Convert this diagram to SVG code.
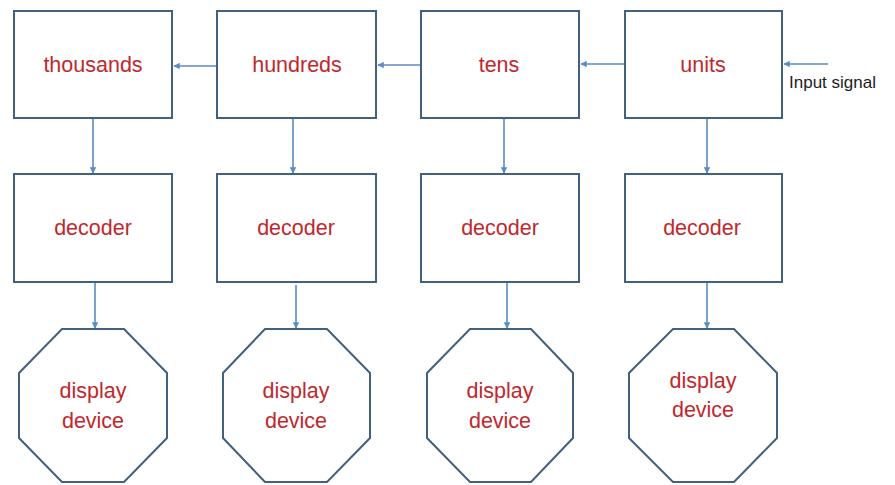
<svg xmlns="http://www.w3.org/2000/svg" width="895" height="485" viewBox="0 0 895 485">
<defs>
<style>
.box{fill:#fff;stroke:#41617f;stroke-width:2}
.lbl{font-family:"Liberation Sans",Arial,sans-serif;font-size:21.5px;fill:#c0282d;text-anchor:middle}
.in{font-family:"Liberation Sans",Arial,sans-serif;font-size:17px;fill:#222}
.con{stroke:#5a8cc0;stroke-width:1.6;fill:none;marker-end:url(#ah)}
</style>
<marker id="ah" viewBox="0 0 10 10" refX="9" refY="5" markerWidth="4" markerHeight="4" orient="auto" markerUnits="strokeWidth">
<path d="M0,0 L10,5 L0,10 z" fill="#5a8cc0"/>
</marker>
</defs>
<rect width="895" height="485" fill="#fff"/>
<g id="connectors">
<line class="con" x1="828" y1="64" x2="784" y2="64"/>
<line class="con" x1="625" y1="64" x2="581" y2="64"/>
<line class="con" x1="421" y1="65" x2="378" y2="65"/>
<line class="con" x1="217" y1="66" x2="174" y2="66"/>
<line class="con" x1="93" y1="119" x2="93" y2="173"/>
<line class="con" x1="293" y1="119" x2="293" y2="173"/>
<line class="con" x1="504" y1="119" x2="504" y2="173"/>
<line class="con" x1="707" y1="119" x2="707" y2="173"/>
<line class="con" x1="95" y1="283" x2="95" y2="328"/>
<line class="con" x1="296" y1="285" x2="296" y2="328"/>
<line class="con" x1="507" y1="283" x2="507" y2="328"/>
<line class="con" x1="707" y1="283" x2="707" y2="328"/>
</g>
<g id="thousands"><rect class="box" x="14" y="11" width="158" height="107"/><text class="lbl" x="93" y="72">thousands</text></g>
<g id="hundreds"><rect class="box" x="217" y="11" width="159" height="107"/><text class="lbl" x="297" y="72">hundreds</text></g>
<g id="tens"><rect class="box" x="421" y="11" width="158" height="107"/><text class="lbl" x="499" y="72">tens</text></g>
<g id="units"><rect class="box" x="625" y="11" width="157" height="107"/><text class="lbl" x="703" y="72">units</text></g>
<g id="input"><text class="in" x="789" y="88">Input signal</text></g>
<g id="dec-thousands"><rect class="box" x="14" y="174" width="158" height="108"/><text class="lbl" x="93" y="235">decoder</text></g>
<g id="dec-hundreds"><rect class="box" x="217" y="174" width="159" height="108"/><text class="lbl" x="296" y="235">decoder</text></g>
<g id="dec-tens"><rect class="box" x="421" y="174" width="158" height="108"/><text class="lbl" x="500" y="235">decoder</text></g>
<g id="dec-units"><rect class="box" x="625" y="174" width="157" height="108"/><text class="lbl" x="702" y="235">decoder</text></g>
<g id="disp-thousands"><polygon class="box" points="62,329 124,329 167,373 167,438 124,482 62,482 19,438 19,373"/><text class="lbl" x="93" y="398">display</text><text class="lbl" x="93" y="428">device</text></g>
<g id="disp-hundreds"><polygon class="box" points="265,329 327,329 370,373 370,438 327,482 265,482 223,438 223,373"/><text class="lbl" x="296" y="398">display</text><text class="lbl" x="296" y="428">device</text></g>
<g id="disp-tens"><polygon class="box" points="470,329 531,329 573,373 573,438 531,482 470,482 427,438 427,373"/><text class="lbl" x="500" y="398">display</text><text class="lbl" x="500" y="428">device</text></g>
<g id="disp-units"><polygon class="box" points="673,329 734,329 777,373 777,438 734,482 673,482 629,438 629,373"/><text class="lbl" x="703" y="388">display</text><text class="lbl" x="703" y="417">device</text></g>
</svg>
